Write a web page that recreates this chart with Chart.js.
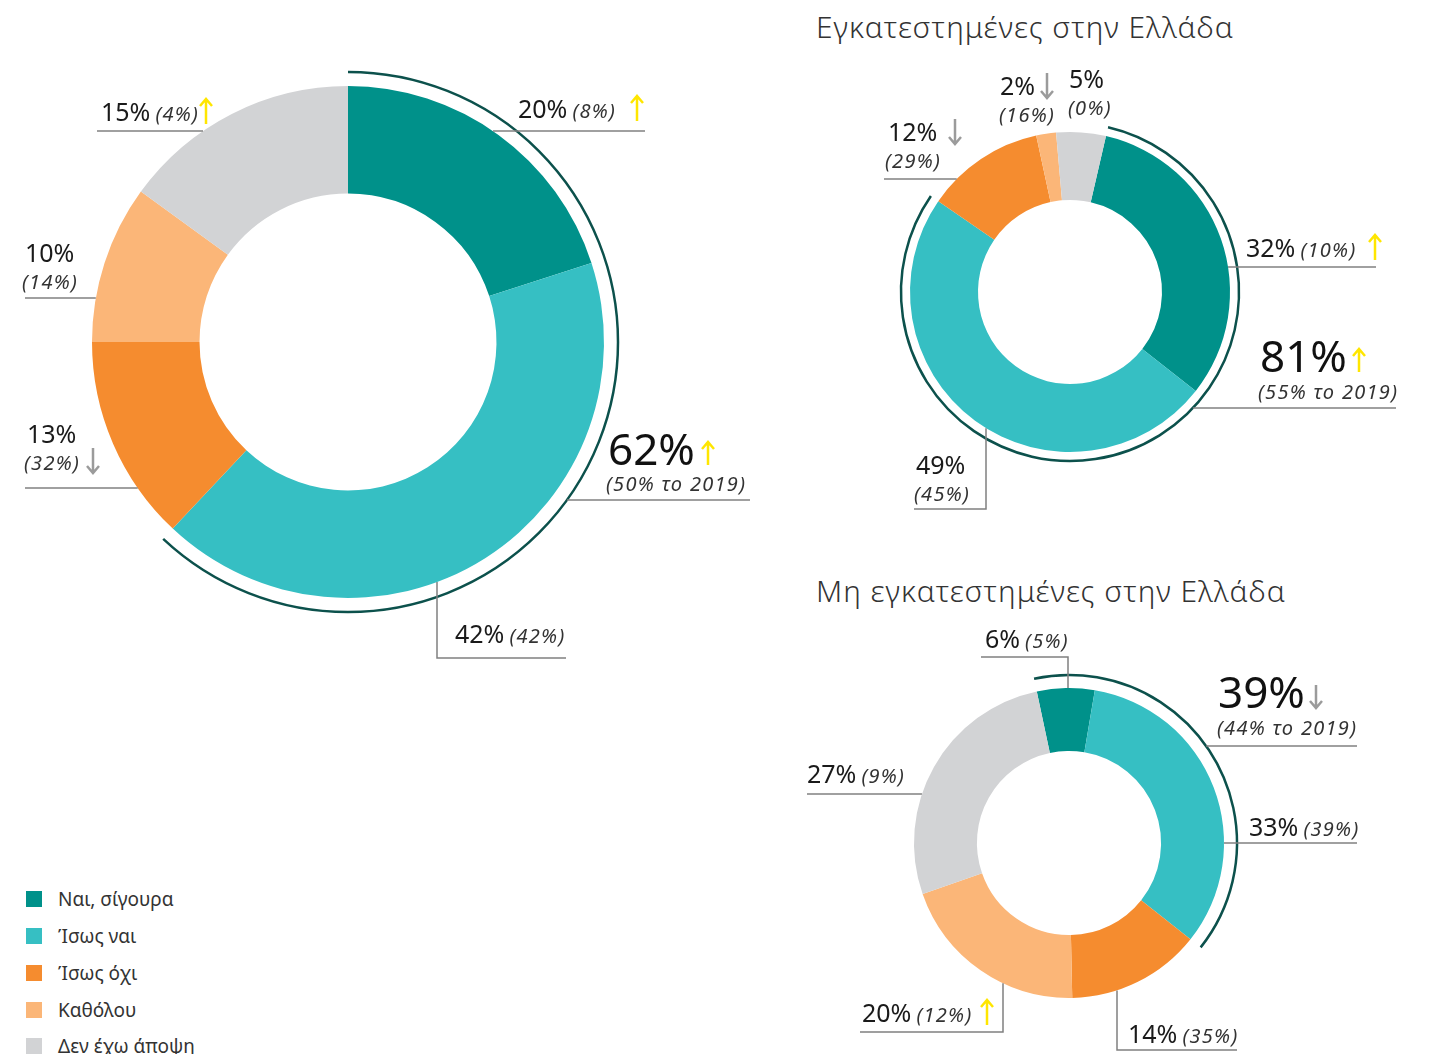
<!DOCTYPE html>
<html lang="el">
<head>
<meta charset="UTF-8">
<title>Πρόθεση επένδυσης</title>
<script src="https://cdn.jsdelivr.net/npm/chart.js"></script>
<style>
  body { margin: 0; background: #fff; font-family: "Noto Sans", sans-serif; }
  .page { position: relative; width: 1429px; height: 1054px; overflow: hidden; }
  .page canvas { position: absolute; }
  .title { position: absolute; left: 816px; margin: 0; font-size: 30px; letter-spacing: 1px; line-height: 1; font-weight: 300; color: #333; white-space: nowrap; }
  .legend { position: absolute; left: 26px; top: 881px; margin: 0; padding: 0; list-style: none; }
  .legend li { display: flex; align-items: center; height: 36.75px; font-size: 19px; color: #333; }
  .legend .sw { width: 16px; height: 16px; margin-right: 16px; }
</style>
</head>
<body>
<div class="page">
  <canvas id="chartAll" width="780" height="700" style="left:0;top:0"></canvas>
  <h2 class="title" style="top:12px">Εγκατεστημένες στην Ελλάδα</h2>
  <canvas id="chartIn" width="649" height="530" style="left:780px;top:0"></canvas>
  <h2 class="title" style="top:576px">Μη εγκατεστημένες στην Ελλάδα</h2>
  <canvas id="chartOut" width="649" height="494" style="left:780px;top:560px"></canvas>
  <ul class="legend" id="legend"></ul>
</div>

<script>
// --- data ---
const categories = ['Ναι, σίγουρα', 'Ίσως ναι', 'Ίσως όχι', 'Καθόλου', 'Δεν έχω άποψη'];
const sliceColors = ['#00918a', '#36bfc3', '#f58c2f', '#fbb678', '#d2d3d5'];

// total
const allValues = [20, 42, 13, 10, 15];
const allPrev = [8, 42, 32, 14, 4];
const allTrend = ['up', '', 'down', '', 'up'];
const allSummaryPrev = 50;

// installed in Greece
const inValues = [32, 49, 12, 2, 5];
const inPrev = [10, 45, 29, 16, 0];
const inTrend = ['up', '', 'down', 'down', ''];
const inSummaryPrev = 55;

// not installed in Greece
const outValues = [6, 33, 14, 20, 27];
const outPrev = [5, 39, 35, 12, 9];
const outTrend = ['', '', '', 'up', ''];
const outSummaryPrev = 44;

// --- label placement (page coords) ---
const allLayout = [
  { i: 0, x: 518, y: 118, arrowX: 637, line: { y: 131, from: 645 } },
  { i: 1, x: 455, y: 643, line: { y: 658, from: 566, vx: 437 } },
  { i: 2, x: 27, y: 443, stack: true, px: 24, arrowX: 93, arrowOnPrev: true, line: { y: 488, from: 25 } },
  { i: 3, x: 25, y: 262, stack: true, px: 22, line: { y: 298, from: 25 } },
  { i: 4, x: 101, y: 121, arrowX: 206, line: { y: 131, from: 97 } }
];
const allSummary = { x: 608, y: 465, arrowX: 708, px: 606, py: 491, line: { y: 500, from: 750, ring: 'arc' } };

const inLayout = [
  { i: 0, x: 1246, y: 257, arrowX: 1375, line: { y: 267, from: 1376 } },
  { i: 1, x: 916, y: 474, stack: true, px: 914, line: { y: 509, from: 914, vx: 986 } },
  { i: 2, x: 888, y: 141, stack: true, px: 885, arrowX: 955, line: { y: 179, from: 884 } },
  { i: 3, x: 1000, y: 95, stack: true, px: 999, arrowX: 1047 },
  { i: 4, x: 1069, y: 88, stack: true, px: 1068 }
];
const inSummary = { x: 1260, y: 372, arrowX: 1359, px: 1258, py: 399, line: { y: 408, from: 1396, ring: 'arc' } };

const outLayout = [
  { i: 0, x: 985, y: 648, line: { y: 657, from: 981, vx: 1068 } },
  { i: 1, x: 1249, y: 836, line: { y: 843, from: 1357 } },
  { i: 2, x: 1128, y: 1043, line: { y: 1050, from: 1237, vx: 1117 } },
  { i: 3, x: 862, y: 1022, arrowX: 987, line: { y: 1032, from: 860, vx: 1003 } },
  { i: 4, x: 807, y: 783, line: { y: 794, from: 807 } }
];
const outSummary = { x: 1218, y: 708, arrowX: 1316, px: 1217, py: 735, line: { y: 746, from: 1357, ring: 'arc' } };

const mainFont = '25px "Noto Sans", sans-serif';
const prevFont = 'italic 20px "Noto Sans", sans-serif';
const prevSpacing = '1.3px';
const bigFont = '44px "Noto Sans", sans-serif';
const upColor = '#ffe600';
const downColor = '#9b9b9b';

function drawArrow(ctx, x, top, bottom, dir) {
  ctx.save();
  ctx.strokeStyle = dir === 'up' ? upColor : downColor;
  ctx.lineWidth = 2.5;
  ctx.beginPath();
  ctx.moveTo(x, top);
  ctx.lineTo(x, bottom);
  const tip = dir === 'up' ? top : bottom;
  const s = dir === 'up' ? 1 : -1;
  ctx.moveTo(x - 6, tip + 7 * s);
  ctx.lineTo(x, tip);
  ctx.lineTo(x + 6, tip + 7 * s);
  ctx.stroke();
  ctx.restore();
}

function prevText(ctx, text, x, y) {
  ctx.save();
  ctx.font = prevFont;
  ctx.letterSpacing = prevSpacing;
  ctx.fillStyle = '#333';
  ctx.fillText(text, x, y);
  ctx.restore();
}

// labels, leader lines and the outer arc round the first two slices
const ringLabels = {
  id: 'ringLabels',
  afterDatasetsDraw(chart, args, opts) {
    const ctx = chart.ctx;
    const arcs = chart.getDatasetMeta(0).data;
    const values = chart.data.datasets[0].data;
    const ox = chart.canvas.offsetLeft, oy = chart.canvas.offsetTop;
    const cx = arcs[0].x + ox, cy = arcs[0].y + oy;
    const R = arcs[0].outerRadius;
    const aR = R + opts.arcGap;

    ctx.save();
    ctx.translate(-ox, -oy);

    // dark arc
    ctx.beginPath();
    ctx.arc(cx, cy, aR, arcs[0].startAngle, arcs[1].endAngle);
    ctx.strokeStyle = '#0c514c';
    ctx.lineWidth = 2.5;
    ctx.stroke();

    function leader(line) {
      if (!line) return;
      const r = line.ring === 'arc' ? aR : R;
      ctx.beginPath();
      ctx.strokeStyle = '#808080';
      ctx.lineWidth = 1.5;
      if (line.vx !== undefined) {
        const dx = line.vx - cx;
        const ey = cy + Math.sign(line.y - cy) * Math.sqrt(Math.max(r * r - dx * dx, 0));
        ctx.moveTo(line.from, line.y);
        ctx.lineTo(line.vx, line.y);
        ctx.lineTo(line.vx, ey);
      } else {
        const dy = line.y - cy;
        const ex = cx + Math.sign(line.from - cx) * Math.sqrt(Math.max(r * r - dy * dy, 0));
        ctx.moveTo(line.from, line.y);
        ctx.lineTo(ex, line.y);
      }
      ctx.stroke();
    }

    ctx.textBaseline = 'alphabetic';
    ctx.textAlign = 'left';

    opts.layout.forEach(l => {
      leader(l.line);
      const main = values[l.i] + '%';
      const prev = '(' + opts.prev[l.i] + '%)';
      ctx.fillStyle = '#1a1a1a';
      ctx.font = mainFont;
      ctx.fillText(main, l.x, l.y);
      const w = ctx.measureText(main).width;
      if (l.stack) {
        prevText(ctx, prev, l.px, l.y + 27);
      } else {
        prevText(ctx, prev, l.x + w + 5, l.y);
      }
      const t = opts.trend[l.i];
      if (t && l.arrowX) {
        const by = l.arrowOnPrev ? l.y + 27 : l.y;
        drawArrow(ctx, l.arrowX, by - 22, by + 3, t);
      }
    });

    // summary: first two slices together
    const s = opts.summary;
    const total = values[0] + values[1];
    leader(s.line);
    ctx.fillStyle = '#111';
    ctx.font = bigFont;
    ctx.fillText(total + '%', s.x, s.y);
    prevText(ctx, '(' + opts.summaryPrev + '% το 2019)', s.px, s.py);
    drawArrow(ctx, s.arrowX, s.y - 23, s.y, total >= opts.summaryPrev ? 'up' : 'down');

    ctx.restore();
  }
};

function makeDoughnut(id, values, padding, cutout, rotation, extra) {
  return new Chart(document.getElementById(id), {
    type: 'doughnut',
    data: {
      labels: categories,
      datasets: [{
        data: values,
        backgroundColor: sliceColors,
        borderWidth: 0,
        hoverOffset: 0
      }]
    },
    options: {
      responsive: false,
      animation: false,
      events: [],
      cutout: cutout,
      rotation: rotation,
      layout: { padding: padding },
      plugins: {
        legend: { display: false },
        tooltip: { enabled: false },
        ringLabels: extra
      }
    },
    plugins: [ringLabels]
  });
}

makeDoughnut('chartAll', allValues, { left: 92, top: 86, right: 176, bottom: 102 }, '58%', 0,
  { layout: allLayout, prev: allPrev, trend: allTrend, summary: allSummary, summaryPrev: allSummaryPrev, arcGap: 14 });

makeDoughnut('chartIn', inValues, { left: 130, top: 132, right: 199, bottom: 78 }, '57.5%', 13,
  { layout: inLayout, prev: inPrev, trend: inTrend, summary: inSummary, summaryPrev: inSummaryPrev, arcGap: 9 });

makeDoughnut('chartOut', outValues, { left: 134, top: 128, right: 205, bottom: 56 }, '59.4%', -12,
  { layout: outLayout, prev: outPrev, trend: outTrend, summary: outSummary, summaryPrev: outSummaryPrev, arcGap: 13 });

// legend
const legend = document.getElementById('legend');
categories.forEach((c, i) => {
  const li = document.createElement('li');
  li.innerHTML = '<span class="sw" style="background:' + sliceColors[i] + '"></span>' + c;
  legend.appendChild(li);
});
</script>
</body>
</html>
